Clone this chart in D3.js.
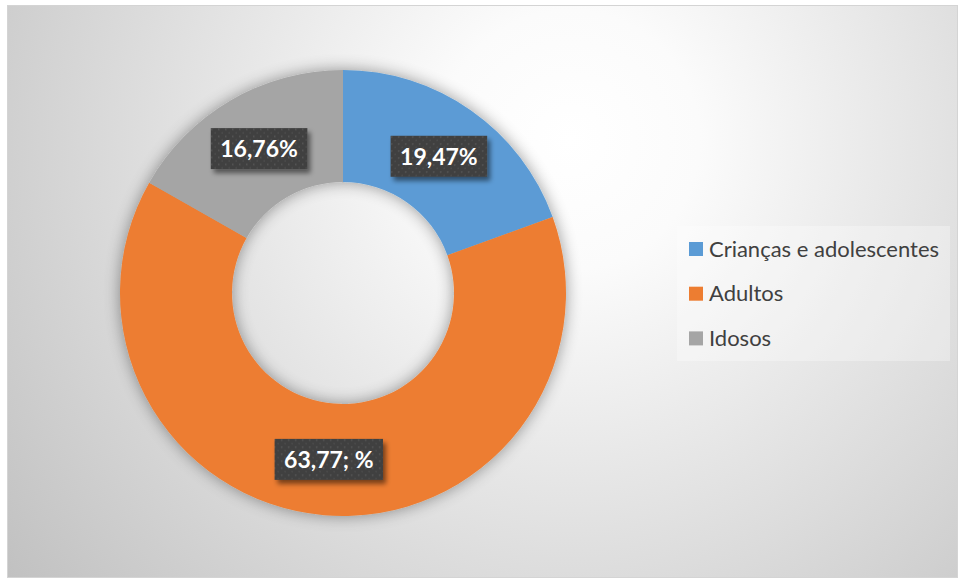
<!DOCTYPE html>
<html>
<head>
<meta charset="utf-8">
<script src="https://cdn.jsdelivr.net/npm/d3@7"></script>
<style>
  body { margin: 0; background: #fff; }
  svg { display: block; }
</style>
</head>
<body>
<div id="chart"></div>
<script>
// data
var categories = ["Crianças e adolescentes", "Adultos", "Idosos"];
var values = [19.47, 63.77, 16.76];
var labels = ["19,47%", "63,77; %", "16,76%"];
var colors = ["#5B9BD5", "#ED7D31", "#A5A5A5"];

var width = 958, height = 579;

var svg = d3.select('#chart')
    .append('svg')
    .attr('width', width)
    .attr('height', height);

var defs = svg.append('defs');

// background gradient
var grad = defs.append('radialGradient')
    .attr('id', 'bg')
    .attr('gradientUnits', 'userSpaceOnUse')
    .attr('cx', 570).attr('cy', 140).attr('r', 720);
grad.append('stop').attr('offset', 0).attr('stop-color', '#ffffff');
grad.append('stop').attr('offset', 0.18).attr('stop-color', '#fbfbfb');
grad.append('stop').attr('offset', 1).attr('stop-color', '#c0c0c0');

// soft shadow for donut
var sh = defs.append('filter').attr('id', 'ringShadow')
    .attr('x', '-20%').attr('y', '-20%').attr('width', '140%').attr('height', '140%');
sh.append('feGaussianBlur').attr('in', 'SourceAlpha').attr('stdDeviation', 8).attr('result', 'b');
sh.append('feComponentTransfer').attr('in', 'b').attr('result', 'b2')
  .append('feFuncA').attr('type', 'linear').attr('slope', 0.4);
var m1 = sh.append('feMerge');
m1.append('feMergeNode').attr('in', 'b2');
m1.append('feMergeNode').attr('in', 'SourceGraphic');

// label box shadow
var ls = defs.append('filter').attr('id', 'boxShadow')
    .attr('x', '-20%').attr('y', '-30%').attr('width', '150%').attr('height', '170%');
ls.append('feGaussianBlur').attr('in', 'SourceAlpha').attr('stdDeviation', 2.5).attr('result', 'b');
ls.append('feOffset').attr('in', 'b').attr('dx', 3).attr('dy', 4).attr('result', 'o');
ls.append('feComponentTransfer').attr('in', 'o').attr('result', 'o2')
  .append('feFuncA').attr('type', 'linear').attr('slope', 0.5);
var m2 = ls.append('feMerge');
m2.append('feMergeNode').attr('in', 'o2');
m2.append('feMergeNode').attr('in', 'SourceGraphic');

// dotted pattern for label boxes
var pat = defs.append('pattern')
    .attr('id', 'dots')
    .attr('patternUnits', 'userSpaceOnUse')
    .attr('width', 7).attr('height', 7);
pat.append('rect').attr('width', 7).attr('height', 7).attr('fill', '#404040');
pat.append('rect').attr('x', 1).attr('y', 1).attr('width', 1.5).attr('height', 1.5).attr('fill', '#585858');
pat.append('rect').attr('x', 4.5).attr('y', 4.5).attr('width', 1.5).attr('height', 1.5).attr('fill', '#4e4e4e');

// chart area
svg.append('rect')
    .attr('x', 7.5).attr('y', 5.5)
    .attr('width', 950).attr('height', 572)
    .attr('fill', 'url(#bg)')
    .attr('stroke', '#d4d4d4');

// donut
var cx = 343, cy = 293, outerR = 223, innerR = 111;

var pie = d3.pie().sort(null).value(d => d);
var arc = d3.arc().innerRadius(innerR).outerRadius(outerR);

var chartGroup = svg.append('g')
    .attr('transform', `translate(${cx},${cy})`);

chartGroup.append('g')
    .attr('filter', 'url(#ringShadow)')
    .selectAll('path')
    .data(pie(values))
    .enter()
    .append('path')
    .attr('d', arc)
    .attr('fill', (d, i) => colors[i]);

// data labels
var labelGroups = chartGroup.selectAll('g.lbl')
    .data(pie(values))
    .enter()
    .append('g')
    .attr('class', 'lbl')
    .attr('transform', d => `translate(${arc.centroid(d)})`);

labelGroups.append('rect')
    .attr('fill', 'url(#dots)')
    .attr('filter', 'url(#boxShadow)');

labelGroups.append('text')
    .attr('text-anchor', 'middle')
    .attr('y', 8.5)
    .style('font-family', 'Lato, "Open Sans", sans-serif')
    .style('font-weight', 'bold')
    .style('font-size', '23px')
    .attr('fill', '#ffffff')
    .text((d, i) => labels[i]);

labelGroups.each(function() {
    var g = d3.select(this);
    var w = g.select('text').node().getBBox().width;
    g.select('rect')
        .attr('x', -w / 2 - 9.5)
        .attr('y', -20.5)
        .attr('width', w + 19)
        .attr('height', 41);
});

// legend
var legend = svg.append('g');

legend.append('rect')
    .attr('x', 677).attr('y', 226)
    .attr('width', 273).attr('height', 135)
    .attr('fill', '#ffffff')
    .attr('fill-opacity', 0.3);

var items = legend.selectAll('g.item')
    .data(categories)
    .enter()
    .append('g')
    .attr('class', 'item')
    .attr('transform', (d, i) => `translate(689,${249 + i * 44.7})`);

items.append('rect')
    .attr('x', 0).attr('y', -7)
    .attr('width', 14).attr('height', 14)
    .attr('fill', (d, i) => colors[i]);

items.append('text')
    .attr('x', 20)
    .attr('y', 7.5)
    .style('font-family', 'Lato, "Open Sans", sans-serif')
    .style('font-size', '22px')
    .attr('fill', '#404040')
    .text(d => d);
</script>
</body>
</html>
